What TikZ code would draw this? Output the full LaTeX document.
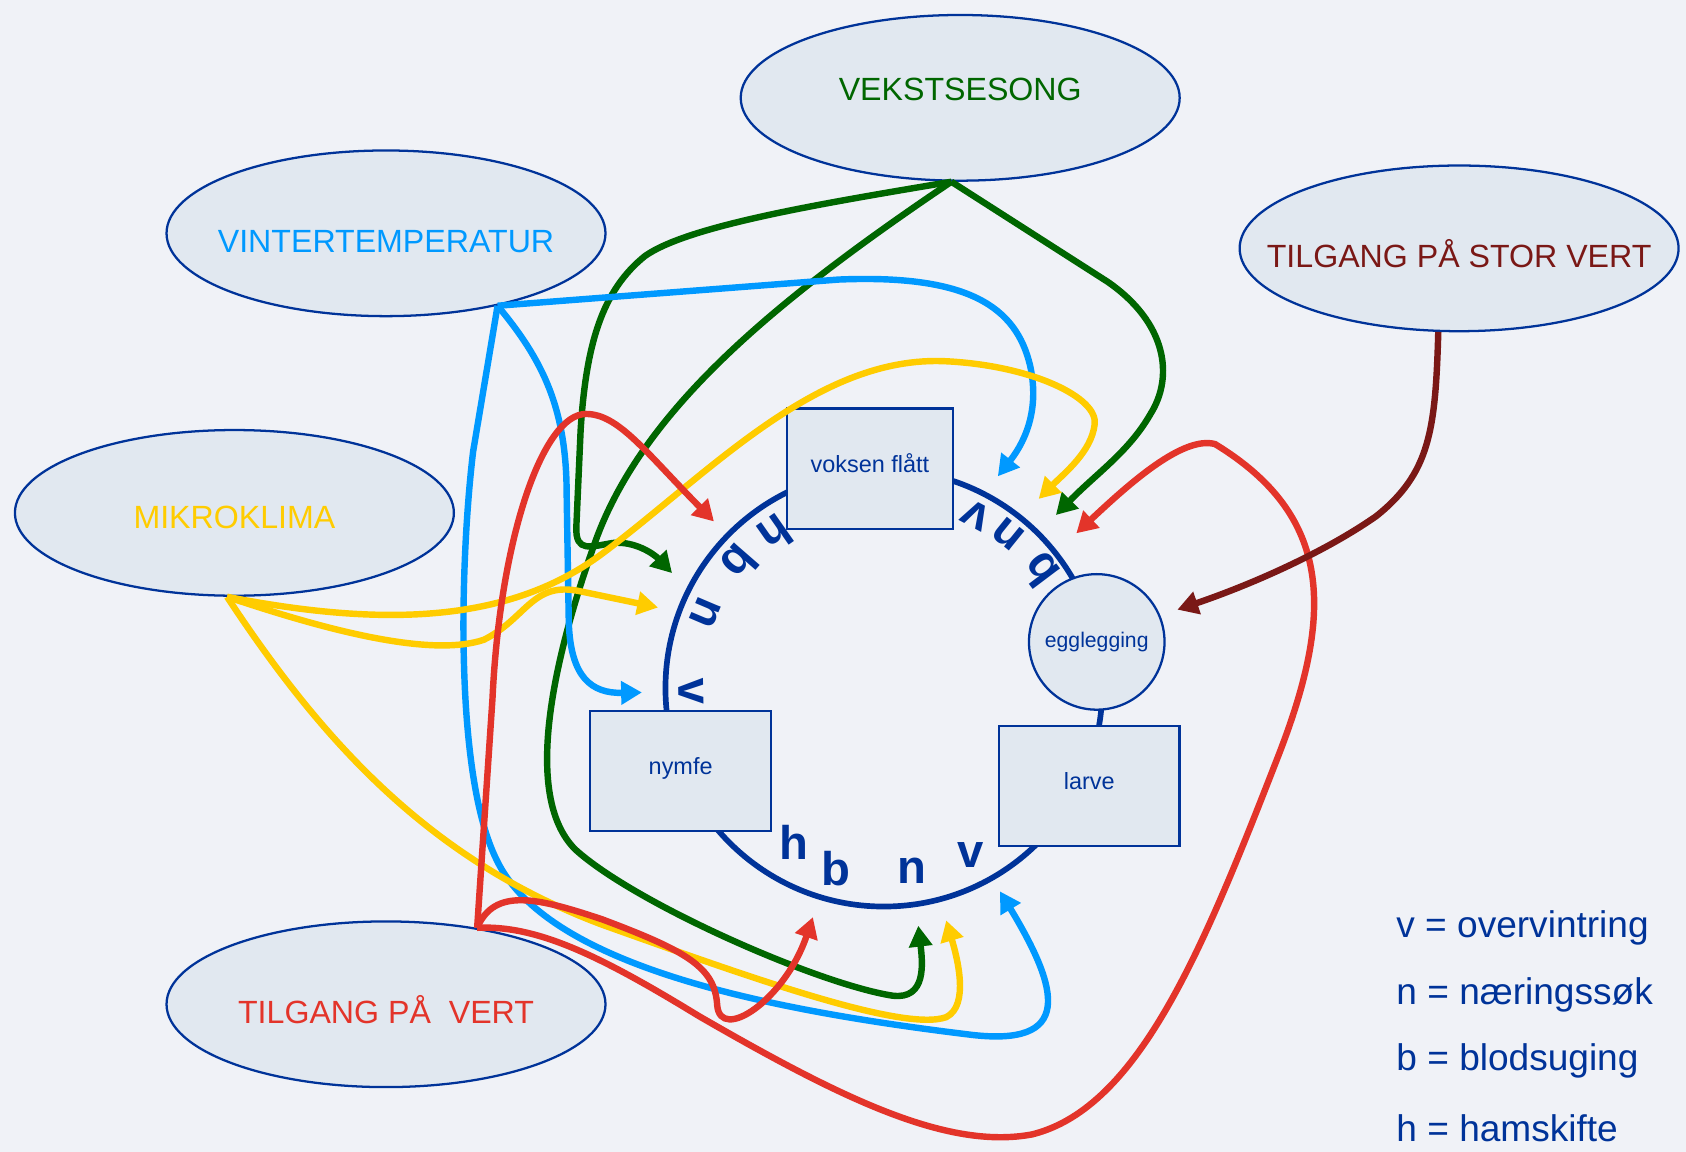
\documentclass[tikz,border=0pt]{standalone}
\usepackage{fontspec}
\setmainfont{Liberation Sans}
\usetikzlibrary{shapes.geometric,arrows.meta}

\definecolor{bg}{RGB}{240,242,247}
\definecolor{nodefill}{RGB}{225,232,240}
\definecolor{navy}{RGB}{0,51,153}
\definecolor{grn}{RGB}{0,102,0}
\definecolor{sky}{RGB}{0,153,255}
\definecolor{gul}{RGB}{255,204,0}
\definecolor{rod}{RGB}{227,52,42}
\definecolor{brun}{RGB}{122,24,22}

\tikzstyle{faktor}=[ellipse,draw=navy,line width=0.6pt,fill=nodefill,minimum width=4.08cm,minimum height=1.54cm,inner sep=0pt,text height=3.55mm,text depth=0pt,font=\fontsize{8.5}{10}\selectfont]
\tikzstyle{stadium}=[rectangle,draw=navy,line width=0.6pt,fill=nodefill,minimum height=1.12cm,text height=1.6mm,text depth=1mm,text=navy,font=\fontsize{6.2}{7}\selectfont]
\tikzstyle{bokstav}=[text=navy,inner sep=0pt,font=\fontsize{12.5}{14}\selectfont\bfseries]
\tikzstyle{pil}=[line width=1.7pt,-{Triangle[length=5.5pt,width=6pt]}]

\begin{document}
\begin{tikzpicture}[x=0.01cm, y=-0.01cm]
	\fill[bg] (0,0) rectangle (1568,1071);
	\useasboundingbox (0,0) rectangle (1568,1071);
	%factors
	\node[faktor,text=grn,text height=2.15mm,text depth=1.6mm] (vekst) at (893,91) {\makebox[0pt]{VEKSTSESONG}};
	\node[faktor,text=sky] (vinter) at (359,217) {\makebox[0pt]{VINTERTEMPERATUR}};
	\node[faktor,text=gul,text height=2.95mm] (mikro) at (218,477) {\makebox[0pt]{MIKROKLIMA}};
	\node[faktor,text=brun] (storvert) at (1357,231) {\makebox[0pt]{TILGANG PÅ STOR VERT}};
	\node[faktor,text=rod] (vert) at (359,934) {\makebox[0pt]{TILGANG PÅ\ \ VERT}};
	%life cycle
	\draw[navy,line width=1.5pt] (822,640) circle (2.03cm);
	\node[stadium,minimum width=1.54cm] (voksen) at (809,436) {voksen flått};
	\node[stadium,minimum width=1.68cm] (nymfe) at (633,717) {nymfe};
	\node[stadium,minimum width=1.68cm] (larve) at (1013,731) {larve};
	\node[circle,draw=navy,line width=0.6pt,fill=nodefill,minimum size=1.26cm,inner sep=0pt,
		text=navy,font=\fontsize{5.6}{6}\selectfont] (egg) at (1020,597) {egglegging};
	%letters on the ring
	\begin{scope}[shift={(822,640)}]
		\foreach \a/\r/\t [count=\i] in {125/175/h,139/178/b,157/180/n,181/179/v,62/182/v,51/184/n,37/182/b}
		\node[bokstav,rotate=\a+90] (ring\i) at (-\a:\r) {\t};
	\end{scope}
	\foreach \x/\y/\t [count=\i] in {738/783/h,777/808/b,848/810/n,903/795/v}
	\node[bokstav] (bunn\i) at (\x,\y) {\t};
	%legend
	\foreach \y/\t [count=\i] in {863/{v = overvintring},925/{n = næringssøk},987/{b = blodsuging},1049/{h = hamskifte}}
	\node[anchor=west,inner sep=0pt,text=navy,font=\fontsize{9.8}{11}\selectfont] (forkl\i) at (1298,\y) {\t};
	%arrow ends
	\coordinate (vf-grn) at (982,479);
	\coordinate (nl-grn) at (625,533);
	\coordinate (bn-grn) at (854,861);
	\coordinate (vf-sky) at (928,443);
	\coordinate (nl-sky) at (597,644);
	\coordinate (bn-sky) at (930,829);
	\coordinate (vf-gul) at (966,464);
	\coordinate (nl-gul) at (612,565);
	\coordinate (bn-gul) at (880,856);
	\coordinate (nl-rod) at (664,485);
	\coordinate (bn-rod) at (756,853);
	\coordinate (vf-rod) at (1001,496);
	\coordinate (egg-brun) at (1095,567);
	%vekstsesong
	\draw[pil,grn] (vekst.-96) -- (1030,262) .. controls (1085,300) and (1092,350) .. (1070,385)
		.. controls (1050,420) and (1020,440) .. (vf-grn);
	\draw[pil,grn] (vekst.-96) .. controls (760,190) and (640,210) .. (600,238)
		.. controls (560,270) and (545,320) .. (540,400) -- (536,490)
		.. controls (535,515) and (550,508) .. (570,505) .. controls (590,503) and (608,515) .. (nl-grn);
	\draw[pil,grn] (vekst.-96) .. controls (720,280) and (600,380) .. (555,500)
		.. controls (515,610) and (485,740) .. (535,790) .. controls (590,840) and (760,915) .. (830,926)
		.. controls (862,930) and (858,895) .. (bn-grn);
	%vintertemperatur
	\draw[pil,sky] (vinter.-33) -- (780,260) .. controls (900,255) and (945,285) .. (958,340)
		.. controls (968,385) and (950,415) .. (vf-sky);
	\draw[pil,sky] (vinter.-33) .. controls (505,335) and (527,380) .. (527,460) -- (529,580)
		.. controls (531,630) and (550,645) .. (nl-sky);
	\draw[pil,sky] (vinter.-33) -- (440,420) .. controls (428,520) and (422,720) .. (462,800)
		.. controls (510,900) and (720,940) .. (900,962) .. controls (1000,975) and (985,920) .. (bn-sky);
	%mikroklima
	\draw[pil,gul] (mikro.-95) .. controls (350,582) and (470,582) .. (560,515)
		.. controls (660,440) and (760,330) .. (880,336) .. controls (960,340) and (1022,370) .. (1018,395)
		.. controls (1015,420) and (990,440) .. (vf-gul);
	\draw[pil,gul] (mikro.-95) .. controls (300,585) and (400,612) .. (450,595)
		.. controls (490,575) and (495,540) .. (540,550) -- (nl-gul);
	\draw[pil,gul] (mikro.-95) .. controls (300,690) and (400,800) .. (560,860)
		.. controls (700,910) and (840,960) .. (880,946) .. controls (902,935) and (890,890) .. (bn-gul);
	%tilgang paa vert
	\draw[pil,rod] (vert.40) -- (458,650) .. controls (465,500) and (505,385) .. (545,385)
		.. controls (575,385) and (600,420) .. (nl-rod);
	\draw[pil,rod] (vert.40) .. controls (460,825) and (500,835) .. (560,855)
		.. controls (640,885) and (665,900) .. (667,935) .. controls (670,970) and (730,930) .. (bn-rod);
	\draw[pil,rod] (vert.40) .. controls (500,860) and (560,890) .. (650,945)
		.. controls (780,1020) and (880,1070) .. (960,1055) .. controls (1060,1030) and (1120,880) .. (1190,700)
		.. controls (1240,570) and (1240,480) .. (1130,413) .. controls (1100,405) and (1050,450) .. (vf-rod);
	%tilgang paa stor vert
	\draw[pil,brun] (storvert.-104) .. controls (1335,400) and (1330,440) .. (1280,480)
		.. controls (1230,515) and (1160,545) .. (egg-brun);
\end{tikzpicture}
\end{document}
